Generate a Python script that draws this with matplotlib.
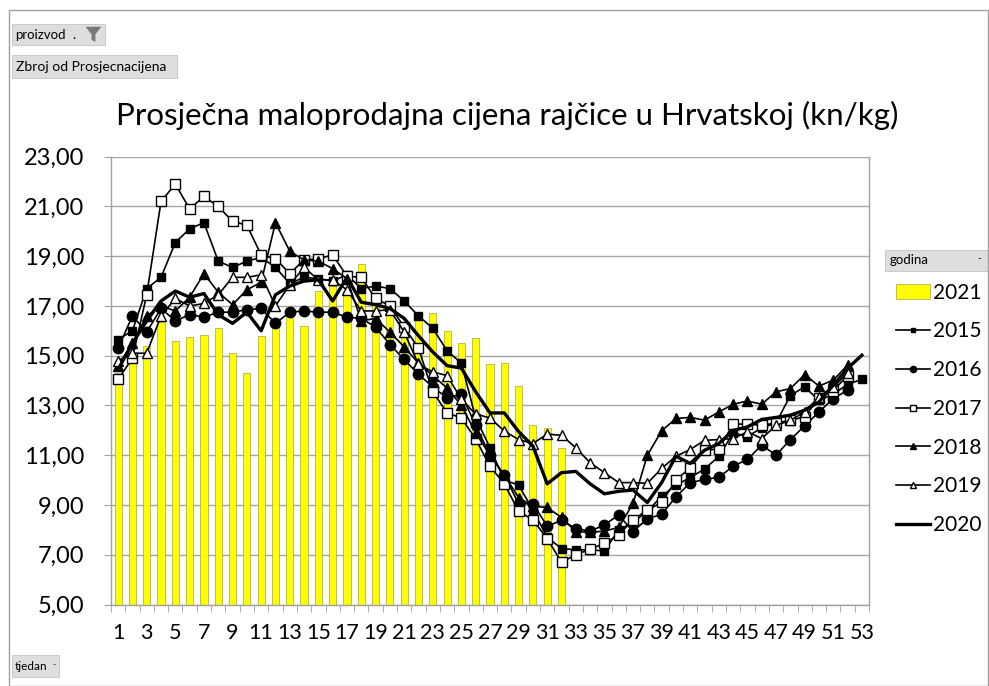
import numpy as np
import matplotlib
matplotlib.use('Agg')
import matplotlib.pyplot as plt
from matplotlib.patches import Rectangle, Polygon

plt.rcParams['font.family'] = ['Lato', 'DejaVu Sans']

weeks = np.arange(1, 54)
nan = np.nan

y2021 = [14.3, 14.9, 15.4, 16.35, 15.6, 15.75, 15.85, 16.1, 15.1, 14.3, 15.8, 16.2, 16.65, 16.2,
         17.6, 17.8, 17.6, 18.7, 17.1, 16.8, 16.1, 16.7, 16.7, 16.0, 15.5, 15.7, 14.65, 14.7,
         13.8, 12.2, 12.1, 11.3]
y2015 = [15.65, 16.0, 17.7, 18.15, 19.55, 20.1, 20.35, 18.8, 18.55, 18.8, 18.95, 18.55, 17.9,
         18.15, 18.1, 18.0, 18.25, 17.7, 17.8, 17.7, 17.2, 16.6, 16.1, 15.2, 14.7, 12.5, 11.3,
         10.0, 9.8, 8.8, 7.7, 7.25, 7.2, 7.2, 7.15, 8.0, 8.3, 8.75, 9.35, 9.8, 10.1, 10.45,
         10.95, 11.9, 11.75, 12.1, 12.3, 13.4, 13.75, 13.2, 13.45, 13.85, 14.05]
y2016 = [15.3, 16.6, 15.95, 16.9, 16.4, 16.65, 16.55, 16.75, 16.75, 16.85, 16.9, 16.3, 16.75,
         16.8, 16.75, 16.75, 16.55, 16.5, 16.15, 15.45, 14.85, 14.25, 13.75, 13.3, 13.45, 12.2,
         11.0, 10.2, 9.05, 9.05, 8.15, 8.38, 8.05, 7.95, 8.2, 8.6, 7.93, 8.45, 8.62, 9.33, 9.89,
         10.03, 10.11, 10.56, 10.83, 11.41, 11.0, 11.63, 12.18, 12.74, 13.28, 13.61, nan]
y2017 = [14.05, 14.9, 17.45, 21.2, 21.9, 20.9, 21.4, 21.0, 20.4, 20.25, 19.05, 18.9, 18.3,
         18.85, 18.9, 19.05, 18.2, 18.15, 17.3, 17.0, 16.15, 15.3, 13.55, 12.7, 12.5, 11.65,
         10.55, 9.85, 8.75, 8.4, 7.65, 6.7, 7.0, 7.22, 7.46, 7.8, 8.4, 8.8, 9.1, 10.0, 10.5,
         11.2, 11.25, 12.25, 12.25, 12.2, 12.3, 12.4, 12.55, 13.3, 13.6, 14.2, nan]
y2018 = [14.6, 15.5, 16.6, 17.0, 16.8, 17.35, 18.3, 17.55, 17.05, 17.65, 17.95, 20.35, 19.2,
         18.85, 18.8, 18.5, 18.1, 16.4, 16.5, 15.95, 15.35, 14.7, 14.2, 13.7, 13.0, 11.9, 11.0,
         10.2, 9.3, 8.95, 8.9, 8.5, 7.93, 7.9, 7.95, 8.1, 9.06, 11.0, 11.98, 12.48, 12.52,
         12.41, 12.74, 13.05, 13.18, 13.05, 13.55, 13.68, 14.24, 13.78, 14.02, 14.62, nan]
y2019 = [14.8, 15.1, 15.1, 16.6, 17.3, 17.0, 17.1, 17.45, 18.15, 18.15, 18.25, 17.0, 17.85,
         18.55, 18.05, 18.05, 17.65, 16.8, 16.8, 16.85, 15.95, 14.65, 14.35, 14.2, 13.25, 12.65,
         12.5, 11.97, 11.63, 11.47, 11.85, 11.8, 11.3, 10.7, 10.3, 9.9, 9.9, 9.87, 10.47,
         10.96, 11.23, 11.6, 11.63, 11.67, 11.94, 11.67, 12.2, 12.4, 12.74, 13.35, 13.75,
         14.29, nan]
y2020 = [14.45, 15.5, 16.4, 17.2, 17.6, 17.35, 17.5, 16.65, 16.3, 16.75, 16.0, 17.45, 17.8,
         18.0, 18.05, 17.2, 18.15, 17.15, 17.05, 16.9, 16.5, 15.8, 15.15, 14.6, 14.5, 13.55,
         12.7, 12.7, 11.95, 11.37, 9.85, 10.3, 10.35, 9.85, 9.45, 9.55, 9.6, 9.1, 9.9, 10.96,
         10.67, 11.2, 11.47, 12.0, 12.14, 12.44, 12.52, 12.61, 12.81, 13.14, 13.82, 14.49, 15.02]

fig = plt.figure(figsize=(9.89, 6.86), dpi=100)
ax = fig.add_axes([0.1122, 0.1188, 0.7665, 0.6528])

bars = ax.bar(weeks[:len(y2021)], y2021, width=0.5, color='#ffff00',
              edgecolor='#8c8c3c', linewidth=0.4, label='2021', zorder=2)
l15, = ax.plot(weeks, y2015, color='black', lw=1.2, marker='s', ms=5.5,
               mfc='black', mec='black', label='2015', zorder=3)
l16, = ax.plot(weeks, y2016, color='black', lw=1.2, marker='o', ms=7.5,
               mfc='black', mec='black', label='2016', zorder=3)
l17, = ax.plot(weeks, y2017, color='black', lw=1.2, marker='s', ms=6.5,
               mfc='white', mec='black', mew=1.0, label='2017', zorder=3)
l18, = ax.plot(weeks, y2018, color='black', lw=1.2, marker='^', ms=6.5,
               mfc='black', mec='black', label='2018', zorder=3)
l19, = ax.plot(weeks, y2019, color='black', lw=1.2, marker='^', ms=6.5,
               mfc='white', mec='black', mew=1.0, label='2019', zorder=3)
l20, = ax.plot(weeks, y2020, color='black', lw=2.4, label='2020', zorder=3)

ax.set_xlim(0.5, 53.5)
ax.set_ylim(5, 23)
ax.set_yticks(np.arange(5, 24, 2))
ax.set_yticklabels([f'{v:.2f}'.replace('.', ',') for v in np.arange(5, 24, 2)])
ax.set_xticks(weeks[::2])
ax.set_xticklabels([str(w) for w in weeks[::2]])
ax.set_xticks(np.arange(0.5, 54, 1), minor=True)
ax.tick_params(axis='x', which='major', length=0, labelsize=15.5, pad=13)
ax.tick_params(axis='x', which='minor', length=5, color='#a0a0a0', direction='out')
ax.tick_params(axis='y', length=5, color='#a0a0a0', labelsize=17, pad=14)
ax.grid(axis='y', color='#a6a6a6', lw=1.0, zorder=0)
ax.set_axisbelow(True)
for s in ax.spines.values():
    s.set_color('#a0a0a0')
    s.set_linewidth(1.0)
ax.spines['top'].set_visible(False)

fig.text(0.513, 0.832, 'Prosječna maloprodajna cijena rajčice u Hrvatskoj (kn/kg)',
         ha='center', va='center', fontsize=22.5)

# pivot chart field buttons
def button(x0, y0, w, h):
    fig.patches.append(Rectangle((x0, y0), w, h, transform=fig.transFigure,
                                 facecolor='#dedede', edgecolor='#c4c4c4', lw=0.6))

button(0.0121, 0.9344, 0.094, 0.0306)
fig.text(0.0152, 0.9497, 'proizvod', fontsize=9.5, va='center')
fig.text(0.073, 0.9497, '.', fontsize=9.5, va='center')
fig.patches.append(Polygon([[0.0865, 0.961], [0.1025, 0.961], [0.0965, 0.950], [0.0965, 0.939],
                            [0.0925, 0.942], [0.0925, 0.950]], closed=True,
                           transform=fig.transFigure, facecolor='#7a7a7a', edgecolor='none'))
button(0.0121, 0.8863, 0.1668, 0.0335)
fig.text(0.0165, 0.903, 'Zbroj od Prosjecnacijena', fontsize=10, va='center')
button(0.8948, 0.605, 0.105, 0.0306)
fig.text(0.900, 0.621, 'godina', fontsize=9.5, va='center')
fig.text(0.988, 0.623, '-', fontsize=7, va='center')
button(0.0121, 0.0131, 0.0475, 0.032)
fig.text(0.0145, 0.029, 'tjedan', fontsize=8.5, va='center')
fig.text(0.0535, 0.031, '-', fontsize=6, va='center')

fig.legend(handles=[bars, l15, l16, l17, l18, l19, l20],
           labels=['2021', '2015', '2016', '2017', '2018', '2019', '2020'],
           loc='upper left', bbox_to_anchor=(0.906, 0.588), frameon=False,
           fontsize=15, handlelength=1.65, handletextpad=0.12, labelspacing=0.9,
           markerscale=0.6, borderaxespad=0, borderpad=0)

fig.patches.append(Rectangle((0.009, 0.0), 0.99, 0.985, transform=fig.transFigure,
                             fill=False, edgecolor='#a0a0a0', lw=1.0))

fig.savefig('out.png', dpi=100)
